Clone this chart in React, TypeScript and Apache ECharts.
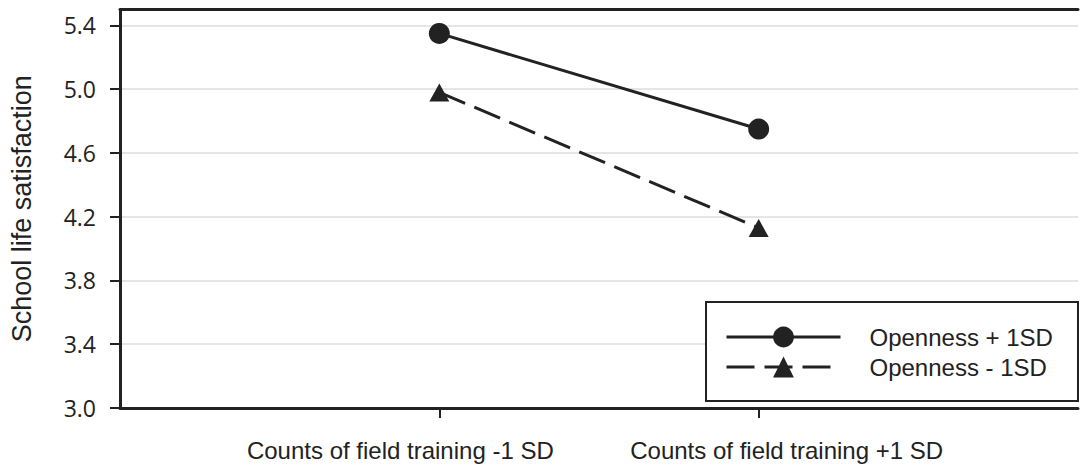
import React, { useEffect, useRef } from "react";
import * as echarts from "echarts";

const categories = ["", "Counts of field training -1 SD", "Counts of field training +1 SD", ""];
const seriesNames = ["Openness + 1SD", "Openness - 1SD"];
const highOpenness = [null, 5.35, 4.75, null];
const lowOpenness = [null, 4.98, 4.13, null];
const yTicks = [3.0, 3.4, 3.8, 4.2, 4.6, 5.0, 5.4];

const INK = "#222222";
const ARIAL = "Liberation Sans, Arial, sans-serif";

export default function App() {
  const ref = useRef<HTMLDivElement>(null);
  useEffect(() => {
    if (!ref.current) return;
    const chart = echarts.init(ref.current, undefined, { renderer: "svg" });
    chart.setOption({
      animation: false,
      backgroundColor: "#ffffff",
      grid: { left: 117, right: -6, top: 9.5, bottom: 58, containLabel: false },
      xAxis: [
        {
          type: "category",
          data: categories,
          boundaryGap: false,
          axisLine: { lineStyle: { color: INK, width: 3 } },
          axisTick: {
            show: true,
            inside: false,
            length: 10,
            interval: (i: number) => i === 1 || i === 2,
            lineStyle: { color: INK, width: 2 },
          },
          axisLabel: {
            interval: 0,
            margin: 30,
            formatter: (v: string, i: number) => (i === 1 ? `{a|${v}}` : i === 2 ? `{b|${v}}` : ""),
            rich: {
              a: { fontFamily: ARIAL, fontSize: 24, color: INK, padding: [0, 78, 0, 0] },
              b: { fontFamily: ARIAL, fontSize: 24, color: INK, padding: [0, 0, 0, 56] },
            },
          },
          splitLine: { show: false },
        },
        {
          type: "category",
          data: categories,
          position: "top",
          boundaryGap: false,
          axisLine: { lineStyle: { color: INK, width: 3 } },
          axisTick: { show: false },
          axisLabel: { show: false },
          splitLine: { show: false },
        },
      ],
      yAxis: {
        type: "value",
        min: 3.0,
        max: 5.5,
        interval: 0.4,
        name: "School life satisfaction",
        nameLocation: "middle",
        nameGap: 85,
        nameTextStyle: { fontFamily: ARIAL, fontSize: 27, color: INK },
        axisLine: { show: true, lineStyle: { color: INK, width: 3 } },
        axisTick: {
          show: true,
          length: 10,
          customValues: yTicks,
          lineStyle: { color: INK, width: 2 },
        },
        axisLabel: {
          margin: 24,
          customValues: yTicks,
          formatter: (v: number) => v.toFixed(1),
          fontFamily: "Open Sans, sans-serif",
          fontSize: 23,
          color: INK,
        },
        splitLine: { show: true, lineStyle: { color: "#dcdcdc", width: 1.5 } },
      },
      legend: {
        orient: "vertical",
        left: 725,
        top: 325,
        itemWidth: 114,
        itemHeight: 26,
        itemGap: 6,
        padding: 0,
        data: seriesNames,
        lineStyle: { width: 3, color: INK },
        textStyle: {
          fontFamily: ARIAL,
          fontSize: 24,
          color: INK,
          padding: [0, 0, 0, 24],
        },
      },
      graphic: [
        {
          type: "rect",
          z: 3,
          shape: { x: 706, y: 302, width: 372, height: 99 },
          style: { fill: "#ffffff", stroke: INK, lineWidth: 2 },
        },
      ],
      series: [
        {
          name: seriesNames[0],
          type: "line",
          data: highOpenness,
          symbol: "circle",
          symbolSize: 21,
          lineStyle: { color: INK, width: 3, type: "solid" },
          itemStyle: { color: INK },
          connectNulls: false,
        },
        {
          name: seriesNames[1],
          type: "line",
          data: lowOpenness,
          symbol: "triangle",
          symbolSize: [20, 18],
          lineStyle: { color: INK, width: 3, type: [28, 10] },
          itemStyle: { color: INK },
          connectNulls: false,
        },
      ],
    });
    return () => chart.dispose();
  }, []);
  return (
    <div
      ref={ref}
      style={{ position: "absolute", left: 0, top: 0, width: 1081, height: 466 }}
    />
  );
}
